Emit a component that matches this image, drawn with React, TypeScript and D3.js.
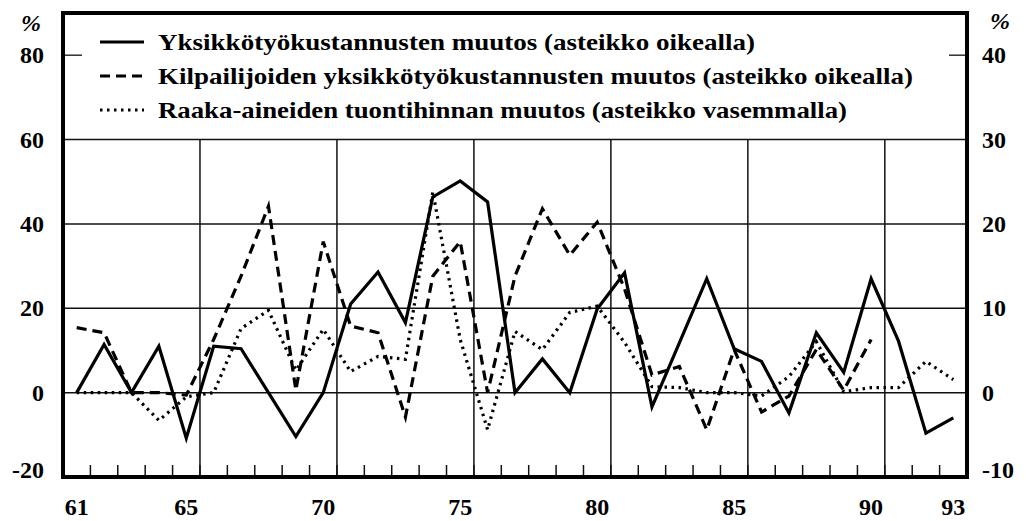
import React from 'react'
import * as d3 from 'd3'

const years = [
  61, 62, 63, 64, 65, 66, 67, 68, 69, 70, 71, 72, 73, 74, 75, 76, 77, 78, 79, 80, 81, 82, 83, 84, 85, 86, 87, 88, 89, 90,
  91, 92, 93,
]
const yearLabels = [61, 65, 70, 75, 80, 85, 90, 93]
const gridYears = [65, 70, 75, 80, 85, 90]

// right axis
const unitCost = [
  0, 5.7, 0, 5.5, -5.4, 5.5, 5.2, 0, -5.2, 0, 10.5, 14.3, 8.3, 23.2, 25.1, 22.6, 0, 4.0, 0, 9.9, 14.2, -1.7, 5.9, 13.5,
  5.2, 3.7, -2.4, 7.1, 2.4, 13.5, 6.1, -4.8, -3.0,
]
// right axis, ends at 90
const rivalCost = [
  7.7, 7.1, 0, 0, -0.3, 6.3, 13.8, 22.1, 0.3, 17.9, 7.9, 7.1, -2.9, 13.8, 17.9, 0, 13.8, 21.8, 16.3, 20.2, 12.3, 2.1,
  3.1, -4.4, 5.1, -2.3, -0.4, 5.1, 0.3, 6.3, null, null, null,
]
// left axis
const rawPrice = [
  0, 0, 0, -6.6, -1, 0, 15.2, 19.5, 5.3, 15, 5, 8.6, 7.9, 47.6, 12.6, -8.8, 14.5, 10.2, 19, 20.5, 11.9, 1.4, 1.2, 0, 0,
  -0.8, 3.8, 12.1, 0.2, 1.2, 1.2, 7.4, 3.1,
]

const leftTicks = [80, 60, 40, 20, 0, -20]
const rightTicks = [40, 30, 20, 10, 0, -10]

const legendItems = [
  { label: 'Yksikkötyökustannusten muutos (asteikko oikealla)', dash: 'none', end: 755 },
  { label: 'Kilpailijoiden yksikkötyökustannusten muutos (asteikko oikealla)', dash: '10,6', end: 913 },
  { label: 'Raaka-aineiden tuontihinnan muutos (asteikko vasemmalla)', dash: '2.5,4.5', end: 847 },
]

const W = 1026
const H = 521
const left = 63
const right = 967
const top = 13
const bottom = 477
const textX = 158

export default function App() {
  const x = d3.scaleBand<number>().domain(years).range([left, right]).padding(0)
  const cx = (yr: number) => (x(yr) ?? 0) + x.bandwidth() / 2
  const yL = d3.scaleLinear().domain([-20, 90]).range([bottom, top])
  const yR = d3.scaleLinear().domain([-10, 45]).range([bottom, top])

  const lineR = d3
    .line<number | null>()
    .defined((d) => d !== null)
    .x((_, i) => cx(years[i]))
    .y((d) => yR(d as number))
  const lineL = d3
    .line<number>()
    .x((_, i) => cx(years[i]))
    .y((d) => yL(d))

  const boundaries = years.slice(0, -1).map((yr) => (x(yr) ?? 0) + x.bandwidth())
  // bottom labels sit a little higher than the baseline of the frame
  const labelY = (py: number) => Math.min(py, 470) + 8

  return (
    <div style={{ position: 'absolute', left: 0, top: 0 }}>
      <svg
        width={W}
        height={H}
        style={{ display: 'block', background: '#fff', fontFamily: "'Liberation Serif', 'DejaVu Serif', serif", fontWeight: 700 }}
      >
        {/* horizontal grid */}
        {[60, 40, 20, 0].map((v) => (
          <line key={v} x1={left} x2={right} y1={yL(v)} y2={yL(v)} stroke="#111" strokeWidth={1.5} />
        ))}
        {/* vertical grid */}
        {gridYears.map((yr) => {
          const gx = (x(yr) ?? 0) + x.bandwidth()
          return <line key={yr} x1={gx} x2={gx} y1={yL(60)} y2={bottom} stroke="#111" strokeWidth={1.5} />
        })}
        {/* bottom ticks */}
        {boundaries.map((bx, i) => (
          <line key={i} x1={bx} x2={bx} y1={bottom} y2={bottom - 12} stroke="#111" strokeWidth={1.5} />
        ))}
        {/* 80 / 40 ticks */}
        <line x1={left} x2={left + 19} y1={yL(80)} y2={yL(80)} stroke="#111" strokeWidth={1.3} />
        <line x1={right - 18} x2={right} y1={yR(40)} y2={yR(40)} stroke="#111" strokeWidth={1.3} />

        {/* series */}
        <path d={lineL(rawPrice) ?? ''} fill="none" stroke="#000" strokeWidth={3.2} strokeDasharray="2.5,4.5" />
        <path d={lineR(rivalCost) ?? ''} fill="none" stroke="#000" strokeWidth={3.2} strokeDasharray="10,6" />
        <path d={lineR(unitCost) ?? ''} fill="none" stroke="#000" strokeWidth={3.2} />

        {/* frame */}
        <rect x={left} y={top} width={right - left} height={bottom - top} fill="none" stroke="#000" strokeWidth={4} />

        {/* legend */}
        {legendItems.map((d, i) => {
          const base = 50 + i * 34
          return (
            <g key={d.label}>
              <line x1={100} x2={144} y1={base - 8} y2={base - 8} stroke="#000" strokeWidth={3.2} strokeDasharray={d.dash} />
              <text x={textX} y={base} fontSize={24} textLength={d.end - textX} lengthAdjust="spacingAndGlyphs">
                {d.label}
              </text>
            </g>
          )
        })}

        {/* left axis labels */}
        {leftTicks.map((v) => (
          <text key={v} x={44} y={labelY(yL(v))} fontSize={24} textAnchor="end">
            {v}
          </text>
        ))}
        <text x={31} y={31} fontSize={24} fontStyle="italic" textAnchor="middle">
          %
        </text>
        {/* right axis labels */}
        {rightTicks.map((v) => (
          <text key={v} x={982} y={labelY(yR(v))} fontSize={24} textAnchor="start">
            {v}
          </text>
        ))}
        <text x={1000} y={29} fontSize={24} fontStyle="italic" textAnchor="middle">
          %
        </text>
        {/* x labels */}
        {yearLabels.map((yr) => (
          <text key={yr} x={cx(yr)} y={515} fontSize={24} textAnchor="middle">
            {yr}
          </text>
        ))}
      </svg>
    </div>
  )
}
